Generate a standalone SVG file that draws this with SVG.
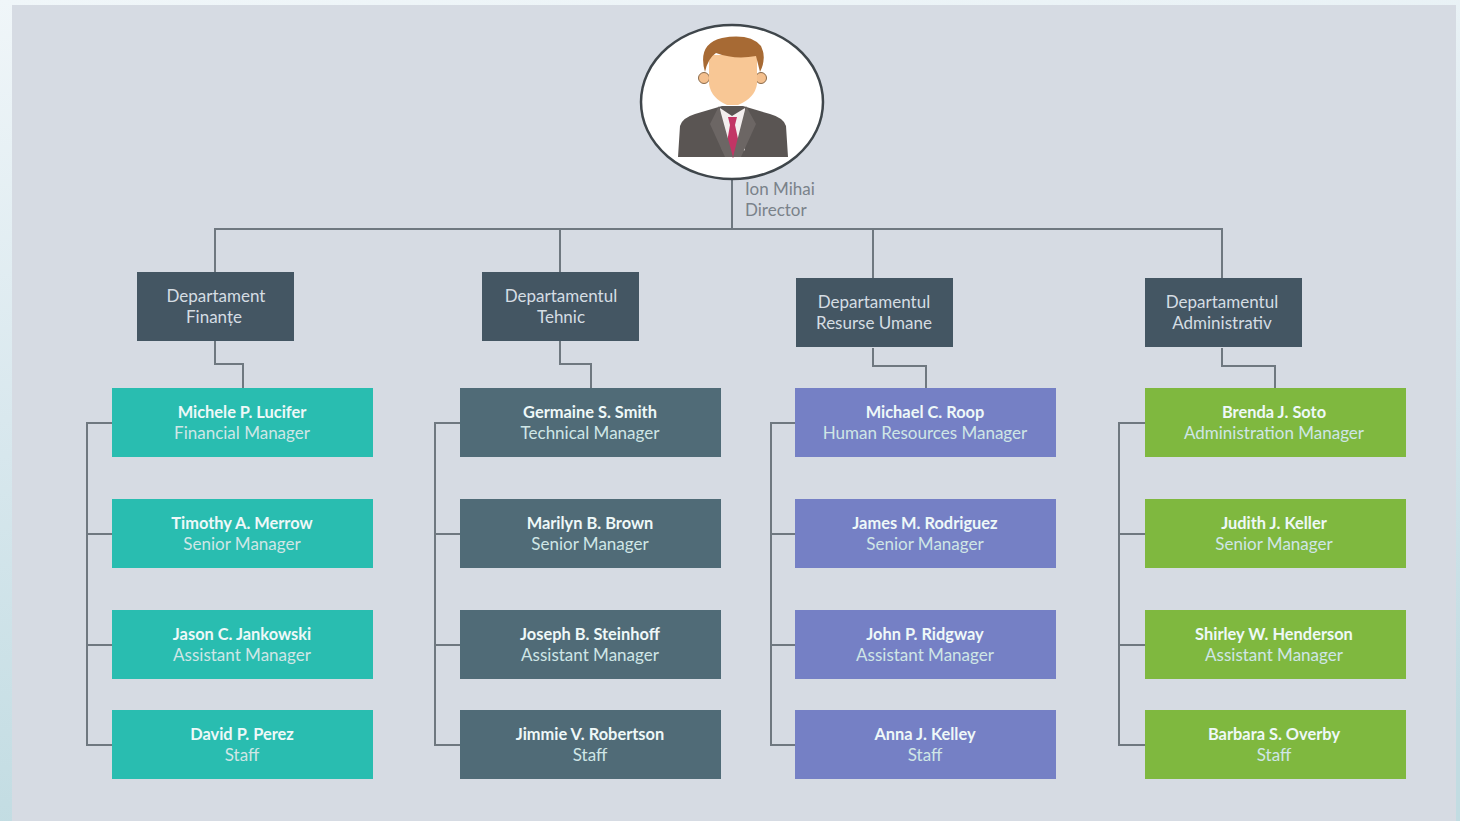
<svg xmlns="http://www.w3.org/2000/svg" width="1460" height="821" viewBox="0 0 1460 821">
<defs>
<linearGradient id="bg" x1="0" y1="0" x2="0.15" y2="1"><stop offset="0" stop-color="#f0f6f9"/><stop offset="0.5" stop-color="#d9e8ee"/><stop offset="1" stop-color="#c2dce2"/></linearGradient>
</defs>
<style>
text{font-family:Lato,"Liberation Sans",sans-serif;text-anchor:middle;font-size:17px}
.c{fill:none;stroke:#6f7880;stroke-width:2}
.d{fill:#445663}
.d text{fill:#d5dde3}
.n{font-weight:700;fill:#eef8f8;font-size:16.4px}
.r{fill:#cfe6e6}
.teal{fill:#29bdb0}.slate{fill:#506b77}.blue{fill:#7580c5}.green{fill:#7fb83f}
.lab{fill:#7a828a;text-anchor:start}
</style>
<rect width="1460" height="821" fill="url(#bg)"/>
<rect x="12" y="5" width="1444" height="816" fill="#d6dbe3"/>
<g id="connectors" class="c">
<path d="M732 178V229M215 272V229H1222V278M560 229V272M873 229V278"/>
<path d="M215 341V364H243V388M560 341V364H591V388M873 348V366H926V388M1222 348V366H1275V388"/>
<path d="M112 423H87V745H112M87 534H112M87 645H112"/>
<path d="M460 423H435V745H460M435 534H460M435 645H460"/>
<path d="M795 423H771V745H795M771 534H795M771 645H795"/>
<path d="M1145 423H1119V745H1145M1119 534H1145M1119 645H1145"/>
</g>
<g id="director">
<ellipse cx="732" cy="102" rx="91" ry="77" fill="#fff" stroke="#3f464b" stroke-width="2.5"/>
<path d="M678 157L680 126Q682 118 695 114L722 106H743L770 114Q784 118 786 126L788 157Z" fill="#5a5553"/>
<path d="M720 108L732 116L745 108L745 150L733 157L722 150Z" fill="#f3eeee"/>
<path d="M728 117H737L735 125L740 148L733 158L726 148L730 125Z" fill="#c23565"/>
<path d="M719 106L733 157L725 157L710 124Z M746 106L733 157L741 157L756 124Z" fill="#6c6664"/>
<circle cx="704" cy="78" r="5.5" fill="#f4c08e" stroke="#8a6a4a"/><circle cx="761" cy="78" r="5.5" fill="#f4c08e" stroke="#8a6a4a"/>
<path d="M709 55H757V84Q755 98 738 105H727Q711 98 709 84Z" fill="#f8c795"/>
<path d="M705 72Q697 44 722 38Q750 33 761 46Q767 58 760 72L756 56Q735 60 716 53Q708 58 705 72Z" fill="#a76a34"/>
<text class="lab" x="745" y="195">Ion Mihai</text>
<text class="lab" x="745" y="216">Director</text>
</g>
<g id="dept1" class="d"><rect x="137" y="272" width="157" height="69"/><text x="216" y="302">Departament</text><text x="214" y="323">Finanțe</text></g>
<g id="dept2" class="d"><rect x="482" y="272" width="157" height="69"/><text x="561" y="302">Departamentul</text><text x="561" y="323">Tehnic</text></g>
<g id="dept3" class="d"><rect x="796" y="278" width="157" height="69"/><text x="874" y="308">Departamentul</text><text x="874" y="329">Resurse Umane</text></g>
<g id="dept4" class="d"><rect x="1145" y="278" width="157" height="69"/><text x="1222" y="308">Departamentul</text><text x="1222" y="329">Administrativ</text></g>

<g id="p11"><rect class="teal" x="112" y="388" width="261" height="69"/><text class="n" x="242" y="418">Michele P. Lucifer</text><text class="r" x="242" y="439">Financial Manager</text></g>
<g id="p12"><rect class="teal" x="112" y="499" width="261" height="69"/><text class="n" x="242" y="529">Timothy A. Merrow</text><text class="r" x="242" y="550">Senior Manager</text></g>
<g id="p13"><rect class="teal" x="112" y="610" width="261" height="69"/><text class="n" x="242" y="640">Jason C. Jankowski</text><text class="r" x="242" y="661">Assistant Manager</text></g>
<g id="p14"><rect class="teal" x="112" y="710" width="261" height="69"/><text class="n" x="242" y="740">David P. Perez</text><text class="r" x="242" y="761">Staff</text></g>

<g id="p21"><rect class="slate" x="460" y="388" width="261" height="69"/><text class="n" x="590" y="418">Germaine S. Smith</text><text class="r" x="590" y="439">Technical Manager</text></g>
<g id="p22"><rect class="slate" x="460" y="499" width="261" height="69"/><text class="n" x="590" y="529">Marilyn B. Brown</text><text class="r" x="590" y="550">Senior Manager</text></g>
<g id="p23"><rect class="slate" x="460" y="610" width="261" height="69"/><text class="n" x="590" y="640">Joseph B. Steinhoff</text><text class="r" x="590" y="661">Assistant Manager</text></g>
<g id="p24"><rect class="slate" x="460" y="710" width="261" height="69"/><text class="n" x="590" y="740">Jimmie V. Robertson</text><text class="r" x="590" y="761">Staff</text></g>

<g id="p31"><rect class="blue" x="795" y="388" width="261" height="69"/><text class="n" x="925" y="418">Michael C. Roop</text><text class="r" x="925" y="439">Human Resources Manager</text></g>
<g id="p32"><rect class="blue" x="795" y="499" width="261" height="69"/><text class="n" x="925" y="529">James M. Rodriguez</text><text class="r" x="925" y="550">Senior Manager</text></g>
<g id="p33"><rect class="blue" x="795" y="610" width="261" height="69"/><text class="n" x="925" y="640">John P. Ridgway</text><text class="r" x="925" y="661">Assistant Manager</text></g>
<g id="p34"><rect class="blue" x="795" y="710" width="261" height="69"/><text class="n" x="925" y="740">Anna J. Kelley</text><text class="r" x="925" y="761">Staff</text></g>

<g id="p41"><rect class="green" x="1145" y="388" width="261" height="69"/><text class="n" x="1274" y="418">Brenda J. Soto</text><text class="r" x="1274" y="439">Administration Manager</text></g>
<g id="p42"><rect class="green" x="1145" y="499" width="261" height="69"/><text class="n" x="1274" y="529">Judith J. Keller</text><text class="r" x="1274" y="550">Senior Manager</text></g>
<g id="p43"><rect class="green" x="1145" y="610" width="261" height="69"/><text class="n" x="1274" y="640">Shirley W. Henderson</text><text class="r" x="1274" y="661">Assistant Manager</text></g>
<g id="p44"><rect class="green" x="1145" y="710" width="261" height="69"/><text class="n" x="1274" y="740">Barbara S. Overby</text><text class="r" x="1274" y="761">Staff</text></g>
</svg>
